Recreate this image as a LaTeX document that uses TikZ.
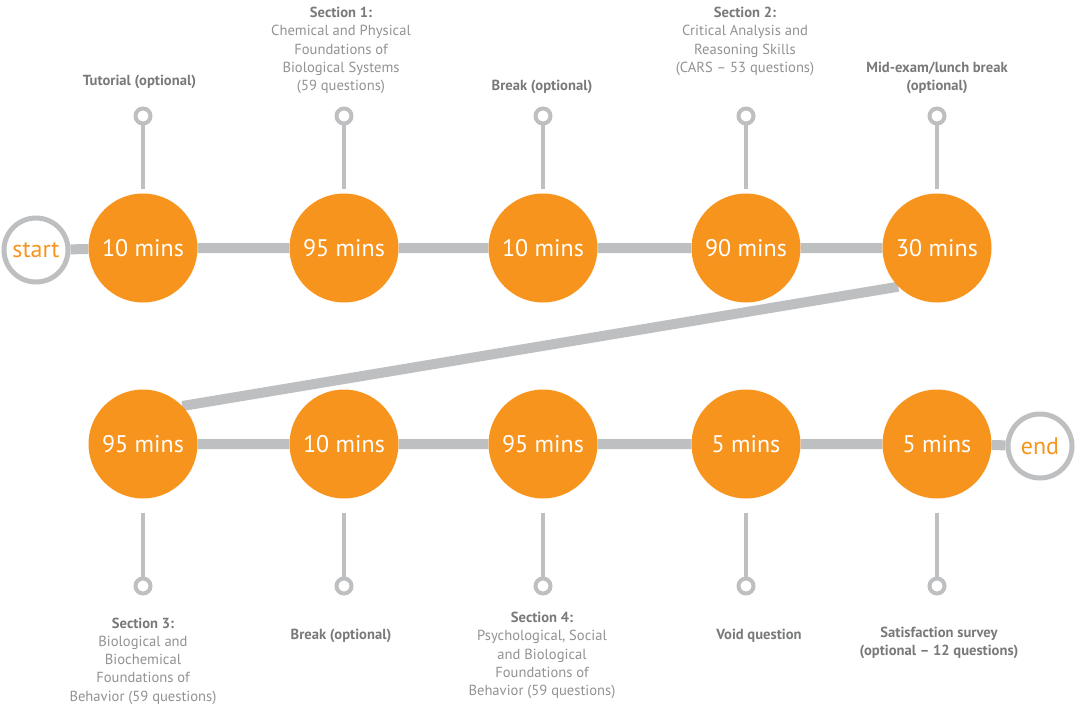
\documentclass[tikz,border=0pt]{standalone}
\usepackage{fontspec}
\setmainfont{PT Sans}
\usetikzlibrary{backgrounds}
\definecolor{orng}{RGB}{247,148,29}
\definecolor{lgray}{RGB}{190,191,193}
\definecolor{tgray}{RGB}{120,121,123}
\definecolor{tlight}{RGB}{145,146,148}
\tikzset{
  stepnode/.style={circle, fill=orng, minimum size=109pt, inner sep=0pt, text=white, font=\fontsize{24}{26}\selectfont},
  endnode/.style={circle, draw=lgray, line width=5pt, fill=white, minimum size=64pt, inner sep=0pt, text=orng, font=\fontsize{24}{26}\selectfont},
  pin/.style={circle, draw=lgray, line width=4pt, fill=white, minimum size=15pt, inner sep=0pt},
  track/.style={draw=lgray, line width=10pt},
  stem/.style={draw=lgray, line width=4.5pt},
  lbl/.style={align=center, text=tlight, font=\fontsize{14.6}{18.3}\selectfont, inner sep=0pt},
}
\newcommand{\hd}[1]{{\bfseries\color{tgray}#1}}
\begin{document}
\begin{tikzpicture}[x=1pt,y=-1pt]
\useasboundingbox (0,0) rectangle (1078,706);
% top row
\node[endnode] (st) at (36,250) {start};
\node[stepnode] (n1) at (143,248) {10 mins};
\node[stepnode] (n2) at (344,248) {95 mins};
\node[stepnode] (n3) at (543,248) {10 mins};
\node[stepnode] (n4) at (746,248) {90 mins};
\node[stepnode] (n5) at (937,248) {30 mins};
% bottom row
\node[stepnode] (b1) at (143,444) {95 mins};
\node[stepnode] (b2) at (344,444) {10 mins};
\node[stepnode] (b3) at (543,444) {95 mins};
\node[stepnode] (b4) at (746,444) {5 mins};
\node[stepnode] (b5) at (937,444) {5 mins};
\node[endnode] (en) at (1040,446) {end};
% pins
\node[pin] (p1) at (143,116) {};
\node[pin] (p2) at (344,116) {};
\node[pin] (p3) at (543,116) {};
\node[pin] (p4) at (746,116) {};
\node[pin] (p5) at (937,116) {};
\node[pin] (q1) at (143,586) {};
\node[pin] (q2) at (344,586) {};
\node[pin] (q3) at (543,586) {};
\node[pin] (q4) at (746,586) {};
\node[pin] (q5) at (937,586) {};
\begin{scope}[on background layer]
\draw[track] (st) -- (n1) -- (n2) -- (n3) -- (n4) -- (n5);
\draw[track] (n5.225) -- (b1.44);
\draw[track] (b1) -- (b2) -- (b3) -- (b4) -- (b5) -- (en);
\foreach \a/\b in {n1/p1,n2/p2,n3/p3,n4/p4,n5/p5}{
  \draw[stem, shorten <=4pt] (\a.north) -- (\b.south);
}
\foreach \a/\b in {b1/q1,b2/q2,b3/q3,b4/q4,b5/q5}{
  \draw[stem, shorten <=14pt] (\a.south) -- (\b.north);
}
\end{scope}
% labels top
\node[lbl] (l1) at (139.5,81.5) {\hd{Tutorial (optional)}};
\node[lbl] (l2) at (341,50.5) {\hd{Section 1:}\\Chemical and Physical\\Foundations of\\Biological Systems\\(59 questions)};
\node[lbl] (l3) at (542,86.5) {\hd{Break (optional)}};
\node[lbl] (l4) at (745,41.5) {\hd{Section 2:}\\Critical Analysis and\\Reasoning Skills\\(CARS – 53 questions)};
\node[lbl] (l5) at (937,78) {\hd{Mid-exam/lunch break}\\\hd{(optional)}};
% labels bottom
\node[lbl] (m1) at (143,661) {\hd{Section 3:}\\Biological and\\Biochemical\\Foundations of\\Behavior (59 questions)};
\node[lbl] (m2) at (341,635.5) {\hd{Break (optional)}};
\node[lbl] (m3) at (542,655.5) {\hd{Section 4:}\\Psychological, Social\\and Biological\\Foundations of\\Behavior (59 questions)};
\node[lbl] (m4) at (759,635.5) {\hd{Void question}};
\node[lbl] (m5) at (939,643) {\hd{Satisfaction survey}\\\hd{(optional – 12 questions)}};
\end{tikzpicture}
\end{document}
